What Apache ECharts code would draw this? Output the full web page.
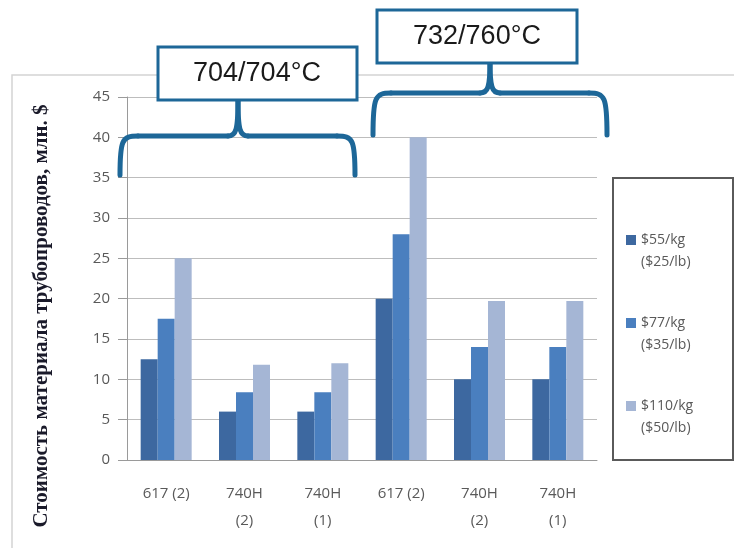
<!DOCTYPE html>
<html>
<head>
<meta charset="utf-8">
<script src="https://cdn.jsdelivr.net/npm/echarts@6/dist/echarts.min.js"></script>
<style>
html,body{margin:0;padding:0;background:#fff;}
#chart{width:734px;height:548px;}
</style>
</head>
<body>
<div id="chart"></div>
<script>
const categories = ['617 (2)', '740H\n(2)', '740H\n(1)', '617 (2)', '740H\n(2)', '740H\n(1)'];
const seriesNames = ['$55/kg\n($25/lb)', '$77/kg\n($35/lb)', '$110/kg\n($50/lb)'];
const price55 = [12.5, 6, 6, 20, 10, 10];
const price77 = [17.5, 8.4, 8.4, 28, 14, 14];
const price110 = [25, 11.8, 12, 40, 19.7, 19.7];
const yTicks = { min: 0, max: 45, interval: 5 };
const yAxisTitle = 'Стоимость материала трубопроводов, млн. $';
const groupLabels = ['704/704°C', '732/760°C'];

const colors = ['#3d68a0', '#4a7fbf', '#a5b6d5'];
const bracketColor = '#1d6798';

const chart = echarts.init(document.getElementById('chart'));
const labelFont = '"Open Sans", "Noto Sans", sans-serif';

// Build a curly-brace annotation from simple graphic primitives
function brace(xL, xR, yEnd, yBar, xMid, yTip) {
  const st = { stroke: bracketColor, lineWidth: 5, fill: null, lineCap: 'round' };
  const r = 18;
  const els = [];
  els.push({ type: 'bezierCurve', z: 20, shape: { x1: xL, y1: yEnd, cpx1: xL, cpy1: yBar + 4, cpx2: xL + 2, cpy2: yBar, x2: xL + r, y2: yBar }, style: st });
  els.push({ type: 'line', z: 20, shape: { x1: xL + r, y1: yBar, x2: xMid - 10, y2: yBar }, style: st });
  els.push({ type: 'bezierCurve', z: 20, shape: { x1: xMid - 10, y1: yBar, cpx1: xMid - 2, cpy1: yBar, cpx2: xMid, cpy2: yBar - 6, x2: xMid, y2: yTip }, style: st });
  els.push({ type: 'bezierCurve', z: 20, shape: { x1: xMid + 10, y1: yBar, cpx1: xMid + 2, cpy1: yBar, cpx2: xMid, cpy2: yBar - 6, x2: xMid, y2: yTip }, style: st });
  els.push({ type: 'line', z: 20, shape: { x1: xMid + 10, y1: yBar, x2: xR - r, y2: yBar }, style: st });
  els.push({ type: 'bezierCurve', z: 20, shape: { x1: xR, y1: yEnd, cpx1: xR, cpy1: yBar + 4, cpx2: xR - 2, cpy2: yBar, x2: xR - r, y2: yBar }, style: st });
  return els;
}

const graphics = [
  { type: 'polyline', z: 0, shape: { points: [[12, 548], [12, 75], [734, 75]] }, style: { stroke: '#d4d4d4', lineWidth: 1.5, fill: null } },
  { type: 'rect', z: 1, shape: { x: 613, y: 178, width: 120, height: 282 }, style: { stroke: '#5a5a5a', lineWidth: 2, fill: null } },
  { type: 'text', z: 10, x: 42, y: 316, rotation: Math.PI / 2,
    style: { text: yAxisTitle, font: 'bold 21px "Liberation Serif", "DejaVu Serif", serif', fill: '#1a1a2a', align: 'center', verticalAlign: 'middle' } }
]
.concat(brace(120, 355, 175, 136, 238, 100))
.concat([
  { type: 'rect', z: 21, shape: { x: 158, y: 47, width: 199, height: 53 }, style: { stroke: bracketColor, lineWidth: 3, fill: '#fff' } },
  { type: 'text', z: 22, x: 257, y: 74, style: { text: groupLabels[0], font: '27px "Liberation Sans", Arial, sans-serif', fill: '#1a1a1a', align: 'center', verticalAlign: 'middle' } }
])
.concat(brace(373, 607, 135, 93, 490, 62))
.concat([
  { type: 'rect', z: 21, shape: { x: 377, y: 10, width: 200, height: 53 }, style: { stroke: bracketColor, lineWidth: 3, fill: '#fff' } },
  { type: 'text', z: 22, x: 477, y: 37, style: { text: groupLabels[1], font: '27px "Liberation Sans", Arial, sans-serif', fill: '#1a1a1a', align: 'center', verticalAlign: 'middle' } }
]);

const option = {
  animation: false,
  backgroundColor: '#fff',
  grid: { left: 127, right: 137, top: 97, bottom: 88 },
  legend: {
    orient: 'vertical',
    left: 621,
    top: 202,
    itemWidth: 10,
    itemHeight: 10,
    itemGap: 17,
    icon: 'rect',
    formatter: function (name) { return ' \n' + name; },
    textStyle: { color: '#595959', fontSize: 14, lineHeight: 22, fontFamily: labelFont },
    data: seriesNames
  },
  xAxis: {
    type: 'category',
    data: categories,
    axisLine: { show: true, lineStyle: { color: '#9a9a9a', width: 1 } },
    axisTick: { show: false },
    axisLabel: { color: '#595959', fontSize: 15, lineHeight: 27, margin: 20, fontFamily: labelFont, interval: 0 }
  },
  yAxis: {
    type: 'value',
    min: yTicks.min,
    max: yTicks.max,
    interval: yTicks.interval,
    axisLine: { show: true, lineStyle: { color: '#9a9a9a', width: 1 } },
    axisTick: { show: true, inside: false, length: 9, lineStyle: { color: '#9a9a9a' } },
    axisLabel: { color: '#595959', fontSize: 15, margin: 17, fontFamily: labelFont },
    splitLine: { show: true, lineStyle: { color: '#bdbdbd', width: 1 } }
  },
  series: [
    { name: seriesNames[0], type: 'bar', data: price55, barWidth: 17, barGap: '0%', itemStyle: { color: colors[0] } },
    { name: seriesNames[1], type: 'bar', data: price77, barWidth: 17, barGap: '0%', itemStyle: { color: colors[1] } },
    { name: seriesNames[2], type: 'bar', data: price110, barWidth: 17, barGap: '0%', itemStyle: { color: colors[2] } }
  ],
  graphic: graphics
};
chart.setOption(option);
</script>
</body>
</html>
